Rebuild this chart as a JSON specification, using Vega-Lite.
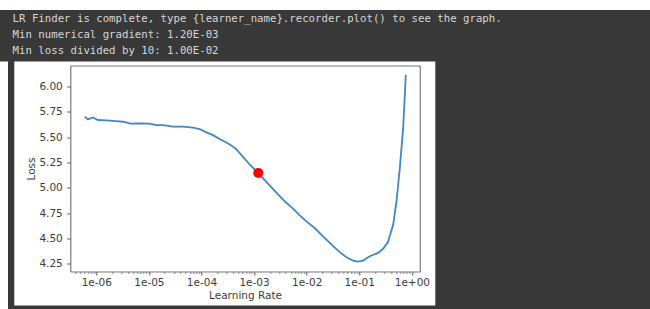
{
  "$schema": "https://vega.github.io/schema/vega-lite/v6.json",
  "background": "#393939",
  "padding": 0,
  "spacing": 2.5,
  "datasets": {
    "curve": [
      {"lr": 6.0e-7, "loss": 5.703},
      {"lr": 6.93e-7, "loss": 5.676},
      {"lr": 8.65e-7, "loss": 5.696},
      {"lr": 1.076e-6, "loss": 5.670},
      {"lr": 1.549e-6, "loss": 5.667},
      {"lr": 2.399e-6, "loss": 5.660},
      {"lr": 3.236e-6, "loss": 5.653},
      {"lr": 4.498e-6, "loss": 5.634},
      {"lr": 6.668e-6, "loss": 5.637},
      {"lr": 1.035e-5, "loss": 5.634},
      {"lr": 1.384e-5, "loss": 5.620},
      {"lr": 1.854e-5, "loss": 5.620},
      {"lr": 2.871e-5, "loss": 5.604},
      {"lr": 4.457e-5, "loss": 5.604},
      {"lr": 6.918e-5, "loss": 5.594},
      {"lr": 9.247e-5, "loss": 5.581},
      {"lr": 1.239e-4, "loss": 5.548},
      {"lr": 1.660e-4, "loss": 5.521},
      {"lr": 2.218e-4, "loss": 5.482},
      {"lr": 3.467e-4, "loss": 5.429},
      {"lr": 4.603e-4, "loss": 5.383},
      {"lr": 6.166e-4, "loss": 5.307},
      {"lr": 8.260e-4, "loss": 5.231},
      {"lr": 1.189e-3, "loss": 5.148},
      {"lr": 1.714e-3, "loss": 5.059},
      {"lr": 2.655e-3, "loss": 4.953},
      {"lr": 3.828e-3, "loss": 4.868},
      {"lr": 5.508e-3, "loss": 4.795},
      {"lr": 7.379e-3, "loss": 4.729},
      {"lr": 9.886e-3, "loss": 4.670},
      {"lr": 1.422e-2, "loss": 4.604},
      {"lr": 2.051e-2, "loss": 4.521},
      {"lr": 3.177e-2, "loss": 4.425},
      {"lr": 4.256e-2, "loss": 4.366},
      {"lr": 5.702e-2, "loss": 4.316},
      {"lr": 7.638e-2, "loss": 4.283},
      {"lr": 9.506e-2, "loss": 4.273},
      {"lr": 0.1183, "loss": 4.283},
      {"lr": 0.1585, "loss": 4.326},
      {"lr": 0.2280, "loss": 4.359},
      {"lr": 0.2838, "loss": 4.399},
      {"lr": 0.3508, "loss": 4.465},
      {"lr": 0.4406, "loss": 4.636},
      {"lr": 0.5093, "loss": 4.861},
      {"lr": 0.5888, "loss": 5.191},
      {"lr": 0.6823, "loss": 5.587},
      {"lr": 0.7674, "loss": 6.116}
    ],
    "suggestion": [
      {"lr": 0.0012, "loss": 5.148}
    ]
  },
  "vconcat": [
    {
      "width": 650,
      "height": 10,
      "view": {"fill": "white", "stroke": null},
      "data": {"values": [{}]},
      "mark": {"type": "point", "opacity": 0}
    },
    {
      "spacing": 4.3,
      "hconcat": [
        {
          "width": 8,
          "height": 296.5,
          "view": {"fill": "white", "stroke": null},
          "data": {"values": [{}]},
          "mark": {"type": "point", "opacity": 0}
        },
        {
          "width": 421,
          "height": 244,
          "view": {"fill": "white", "stroke": null},
          "title": {
            "text": [
              "LR Finder is complete, type {learner_name}.recorder.plot() to see the graph.",
              "Min numerical gradient: 1.20E-03",
              "Min loss divided by 10: 1.00E-02"
            ],
            "anchor": "start",
            "frame": "group",
            "dx": -1.7,
            "offset": 5,
            "font": "DejaVu Sans Mono",
            "fontSize": 10.7,
            "fontWeight": "normal",
            "color": "#d6d6d6",
            "lineHeight": 16
          },
          "resolve": {"axis": {"x": "independent", "y": "independent"}},
          "layer": [
            {
              "data": {"name": "curve"},
              "mark": {"type": "line", "color": "#3f88c5", "strokeWidth": 1.8},
              "encoding": {
                "x": {
                  "field": "lr",
                  "type": "quantitative",
                  "scale": {"type": "log", "domain": [3.206e-7, 1.416], "range": [56, 405.5], "nice": false},
                  "axis": {
                    "orient": "bottom",
                    "offset": -34,
                    "values": [4e-7, 5e-7, 6e-7, 7e-7, 8e-7, 9e-7,
                      1e-6, 2e-6, 3e-6, 4e-6, 5e-6, 6e-6, 7e-6, 8e-6, 9e-6,
                      1e-5, 2e-5, 3e-5, 4e-5, 5e-5, 6e-5, 7e-5, 8e-5, 9e-5,
                      1e-4, 2e-4, 3e-4, 4e-4, 5e-4, 6e-4, 7e-4, 8e-4, 9e-4,
                      1e-3, 2e-3, 3e-3, 4e-3, 5e-3, 6e-3, 7e-3, 8e-3, 9e-3,
                      0.01, 0.02, 0.03, 0.04, 0.05, 0.06, 0.07, 0.08, 0.09,
                      0.1, 0.2, 0.3, 0.4, 0.5, 0.6, 0.7, 0.8, 0.9, 1],
                    "labelExpr": "abs(log(datum.value)/LN10 - round(log(datum.value)/LN10)) < 0.001 ? ('1e' + (round(log(datum.value)/LN10) < 0 ? '-' : '+') + (abs(round(log(datum.value)/LN10)) < 10 ? '0' : '') + abs(round(log(datum.value)/LN10))) : ''",
                    "tickSize": {"condition": {"test": "abs(log(datum.value)/LN10 - round(log(datum.value)/LN10)) < 0.001", "value": 3.5}, "value": 2},
                    "tickWidth": {"condition": {"test": "abs(log(datum.value)/LN10 - round(log(datum.value)/LN10)) < 0.001", "value": 1}, "value": 0.7},
                    "labelOverlap": false,
                    "labelFlush": false,
                    "labelPadding": 2,
                    "title": "Learning Rate",
                    "titlePadding": 2.5
                  }
                },
                "y": {
                  "field": "loss",
                  "type": "quantitative",
                  "scale": {"domain": [4.175, 6.208], "range": [210, 4], "zero": false, "nice": false},
                  "axis": {
                    "orient": "left",
                    "offset": -56,
                    "values": [4.25, 4.5, 4.75, 5, 5.25, 5.5, 5.75, 6],
                    "format": ".2f",
                    "tickSize": 3.5,
                    "labelPadding": 4.5,
                    "title": "Loss",
                    "titlePadding": 2
                  }
                }
              }
            },
            {
              "data": {"name": "suggestion"},
              "mark": {"type": "point", "filled": true, "color": "#ff0000", "opacity": 1, "size": 100},
              "encoding": {
                "x": {
                  "field": "lr",
                  "type": "quantitative",
                  "scale": {"type": "log", "domain": [3.206e-7, 1.416], "range": [56, 405.5], "nice": false},
                  "axis": {"orient": "top", "offset": -4, "labels": false, "ticks": false, "title": null}
                },
                "y": {
                  "field": "loss",
                  "type": "quantitative",
                  "scale": {"domain": [4.175, 6.208], "range": [210, 4], "zero": false, "nice": false},
                  "axis": {"orient": "right", "offset": -15.5, "labels": false, "ticks": false, "title": null}
                }
              }
            }
          ]
        }
      ]
    }
  ],
  "config": {
    "view": {"stroke": null},
    "axis": {
      "grid": false,
      "domainColor": "#7a7a7a",
      "domainWidth": 1.2,
      "tickColor": "#555555",
      "labelFont": "DejaVu Sans",
      "labelFontSize": 10.5,
      "labelColor": "#3c3c3c",
      "titleFont": "DejaVu Sans",
      "titleFontSize": 10.5,
      "titleFontWeight": "normal",
      "titleColor": "#3c3c3c"
    }
  }
}
